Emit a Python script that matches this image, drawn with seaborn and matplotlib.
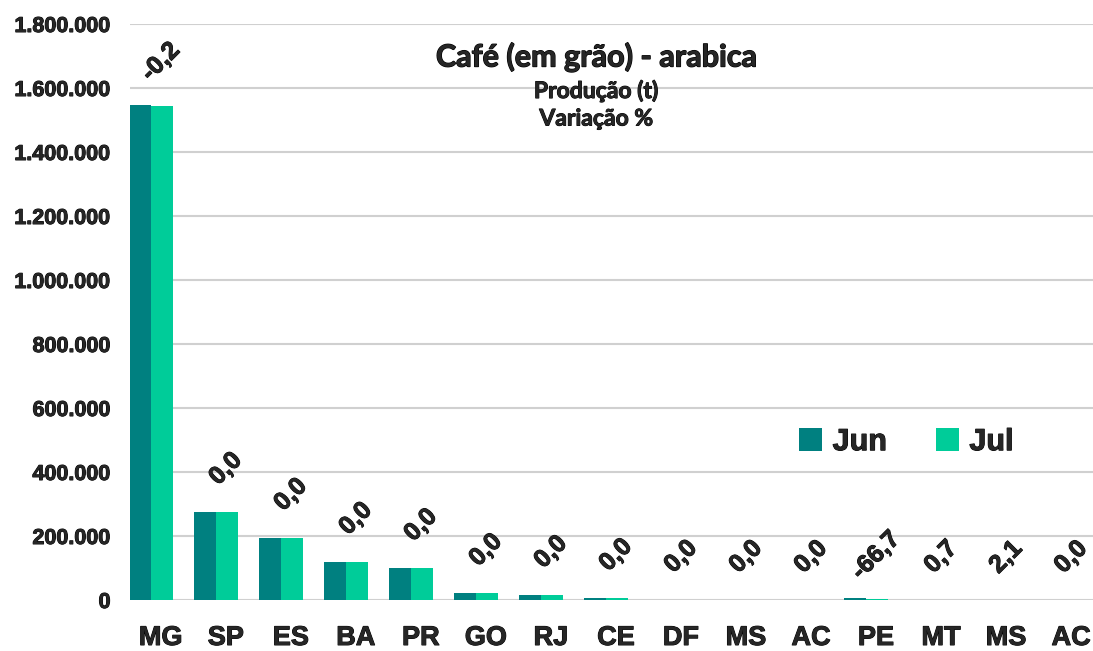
import numpy as np
import pandas as pd
import matplotlib
matplotlib.use("Agg")
import matplotlib.pyplot as plt
import matplotlib.patheffects as pe
import seaborn as sns
from matplotlib.transforms import ScaledTranslation

# ── data ──────────────────────────────────────────────────
states = ["MG", "SP", "ES", "BA", "PR", "GO", "RJ", "CE",
          "DF", "MS", "AC", "PE", "MT", "MS", "AC"]
jun = [1548000, 276000, 195000, 120000, 100000, 22000, 16000, 6500,
       1500, 1000, 600, 5400, 450, 95, 40]
jul = [1545000, 276000, 195000, 120000, 100000, 22000, 16000, 6500,
       1500, 1000, 600, 1800, 453, 97, 40]
variacao = [-0.2, 0.0, 0.0, 0.0, 0.0, 0.0, 0.0, 0.0,
            0.0, 0.0, 0.0, -66.7, 0.7, 2.1, 0.0]
months = ["Jun", "Jul"]
colors = ["#008080", "#00CC99"]

# long table for seaborn (position index keeps duplicate states apart)
pos = list(range(len(states)))
df = pd.DataFrame({
    "pos": pos * 2,
    "valor": jun + jul,
    "mes": ["Jun"] * len(states) + ["Jul"] * len(states),
})

# ── plot ──────────────────────────────────────────────────
sns.set_style("white")
plt.rcParams["font.family"] = ["Liberation Sans", "DejaVu Sans"]
heavy = [pe.withStroke(linewidth=0.7, foreground="black")]
title_fx = [pe.withStroke(linewidth=0.9, foreground="black")]

fig = plt.figure(figsize=(10.93, 6.51), dpi=100)
ax = fig.add_axes([130 / 1093, 1 - 600 / 651, 1 - 130 / 1093, 576 / 651])

sns.barplot(data=df, x="pos", y="valor", hue="mes", hue_order=months,
            palette=colors, width=0.68, saturation=1, linewidth=0,
            ax=ax, legend=True)

ax.set_ylim(0, 1800000)
ax.set_xlim(-0.32, 14.49)
ax.set_yticks(np.arange(0, 1800001, 200000))
ax.set_yticklabels([f"{int(v):,}".replace(",", ".") for v in ax.get_yticks()],
                   fontsize=15.5, fontweight="bold")
ax.set_xticks(pos)
ax.set_xticklabels(states, fontsize=19.5, fontweight="bold")
ax.tick_params(axis="both", length=0)
ax.tick_params(axis="y", pad=14)
ax.tick_params(axis="x", pad=18)
for lbl in ax.get_xticklabels():
    lbl.set_transform(lbl.get_transform() + ScaledTranslation(0.1, 0, fig.dpi_scale_trans))
    lbl.set_path_effects(heavy)
for lbl in ax.get_yticklabels():
    lbl.set_path_effects(heavy)
ax.set_xlabel("")
ax.set_ylabel("")
ax.yaxis.grid(True, color="#d0d0d0", lw=1.5)
ax.set_axisbelow(True)
for s in ax.spines.values():
    s.set_visible(False)

# variation labels above each pair of bars
for i, v in enumerate(variacao):
    top = max(jun[i], jul[i])
    ax.annotate(f"{v:.1f}".replace(".", ","), xy=(i, top), xytext=(7, 31),
                textcoords="offset points", rotation=45, ha="center",
                va="center", fontsize=18, fontweight="bold",
                path_effects=heavy)

leg = ax.legend(loc="center", bbox_to_anchor=(0.806, 0.274), ncol=2,
                frameon=False, handlelength=0.75, handleheight=0.75,
                handletextpad=0.35, columnspacing=1.6,
                prop={"weight": "bold", "size": 22})
for t in leg.get_texts():
    t.set_path_effects(heavy)

fig.text(596 / 1093, 1 - 57 / 651, "Café (em grão) - arabica", ha="center",
         va="center", fontsize=22, fontweight="bold", family="Lato",
         path_effects=title_fx)
fig.text(596 / 1093, 1 - 91 / 651, "Produção (t)", ha="center",
         va="center", fontsize=16.5, fontweight="bold", family="Lato",
         path_effects=heavy)
fig.text(596 / 1093, 1 - 119 / 651, "Variação %", ha="center",
         va="center", fontsize=16.5, fontweight="bold", family="Lato",
         path_effects=heavy)

fig.savefig("out.png", dpi=100)
